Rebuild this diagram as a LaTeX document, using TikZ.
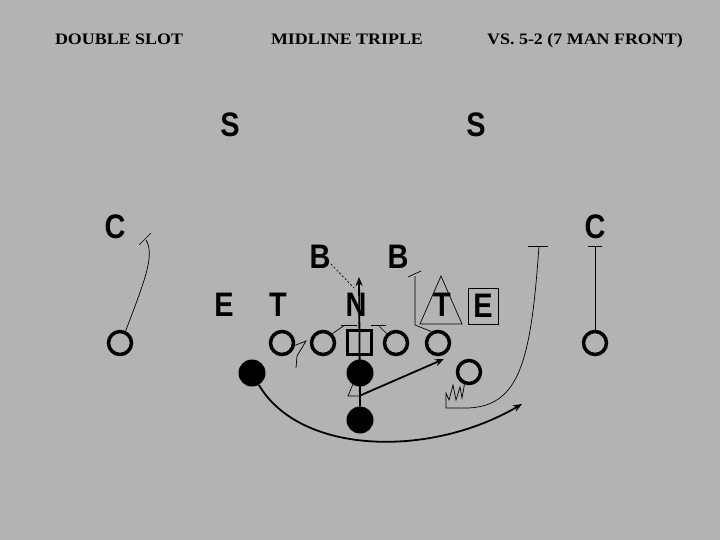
\documentclass[tikz,border=0pt]{standalone}
\usepackage{fontspec}
\usepackage{tikz}
\usetikzlibrary{arrows.meta}
\newfontfamily\headfont{Liberation Serif}
\newfontfamily\markfont{Liberation Sans}
\definecolor{fieldgray}{RGB}{179,179,179}
\tikzstyle{heading} = [font=\headfont\bfseries\fontsize{16}{16}\selectfont, xscale=1.12, inner sep=0pt, anchor=base]
\tikzstyle{defender} = [font=\markfont\bfseries\fontsize{34}{34}\selectfont, xscale=0.85, inner sep=0pt, text=black]
\tikzstyle{lineman} = [circle, draw=black, line width=3.5pt, minimum size=23pt, inner sep=0pt]
\tikzstyle{snapper} = [rectangle, draw=black, line width=3pt, minimum size=24pt, inner sep=0pt]
\tikzstyle{ballback} = [circle, fill=black, minimum size=27pt, inner sep=0pt]
\tikzstyle{route} = [line width=0.7pt]
\tikzstyle{arrow} = [line width=1.8pt,-{Stealth[length=9pt,width=7pt]}]

\begin{document}
\begin{tikzpicture}[x=1pt,y=-1pt]

\fill [fieldgray] (0,0) rectangle (720,540);
\useasboundingbox (0,0) rectangle (720,540);

% headings
\node (formation) [heading] at (119,45) {DOUBLE SLOT};
\node (play) [heading] at (347,45) {MIDLINE TRIPLE};
\node (front) [heading] at (585,45) {VS. 5-2 (7 MAN FRONT)};

% defense
\node (Sl) [defender] at (230,125) {S};
\node (Sr) [defender] at (476,125) {S};
\node (Cl) [defender] at (115,227) {C};
\node (Cr) [defender] at (595,227) {C};
\node (Bl) [defender] at (320,257) {B};
\node (Br) [defender] at (398,257) {B};
\node (El) [defender] at (224,305) {E};
\node (Tl) [defender] at (278,305) {T};
\node (N) [defender] at (356,305) {N};
\node (Tr) [defender] at (442,305) {T};
\node (Er) [defender, draw=black, line width=0.7pt, minimum width=35pt, minimum height=36pt] at (483,306) {E};
\draw [route] (441,276) -- (420,324) -- (462,324) -- cycle;

% offense
\node (WRl) [lineman] at (120,343) {};
\node (LT) [lineman] at (282,343) {};
\node (LG) [lineman] at (323,343) {};
\node (OC) [snapper] at (359,342) {};
\node (RG) [lineman] at (396,343) {};
\node (RT) [lineman] at (438,343) {};
\node (WRr) [lineman] at (595,343) {};
\node (SBr) [lineman] at (469,372) {};
\node (SBl) [ballback] at (252,373) {};
\node (QB) [ballback] at (360,373) {};
\node (FB) [ballback] at (360,420) {};

% free ends
\coordinate (fade) at (146,240);
\coordinate (hitch) at (595,246);
\coordinate (wheel) at (539,246);
\coordinate (dive) at (359,277);
\coordinate (ride) at (359,396);
\coordinate (pitch) at (522,404);
\coordinate (key) at (444,359);

% routes and blocks
\draw [route] (WRl.65) .. controls (145,280) and (155,255) .. (fade);
\draw [route] (139,245) -- (151,233);
\draw [route] (WRr.north) -- (hitch);
\draw [route] (588,246) -- (602,246);
\draw [route] (LT.-10) -- (306,341) -- (297,356) -- (296,368);
\draw [route] (LG.45) -- (345,325);
\draw [route] (341,325) -- (357,325);
\draw [route] (RG.135) -- (378,325);
\draw [route] (371,325) -- (386,325);
\draw [route] (RT.120) -- (415,325) -- (415,276);
\draw [route] (408,277) -- (421,271);
\draw [route, dash pattern=on 2pt off 2pt] (331,264) -- (354,288);
\draw [route] (SBr.-110) -- (462,398) -- (460,387) -- (456,400) -- (453,385) -- (449,400) -- (446,393) -- (446,408) -- (468,408) .. controls (520,406) and (531,360) .. (wheel);
\draw [route] (528,246) -- (548,246);
\draw [route] (353,384) -- (348,396) -- (ride);

% option paths
\draw [arrow] (FB.north) -- (dive);
\draw [arrow] (ride) -- (key);
\draw [arrow] (SBl.-60) .. controls (300,455) and (430,458) .. (pitch);

\end{tikzpicture}
\end{document}
